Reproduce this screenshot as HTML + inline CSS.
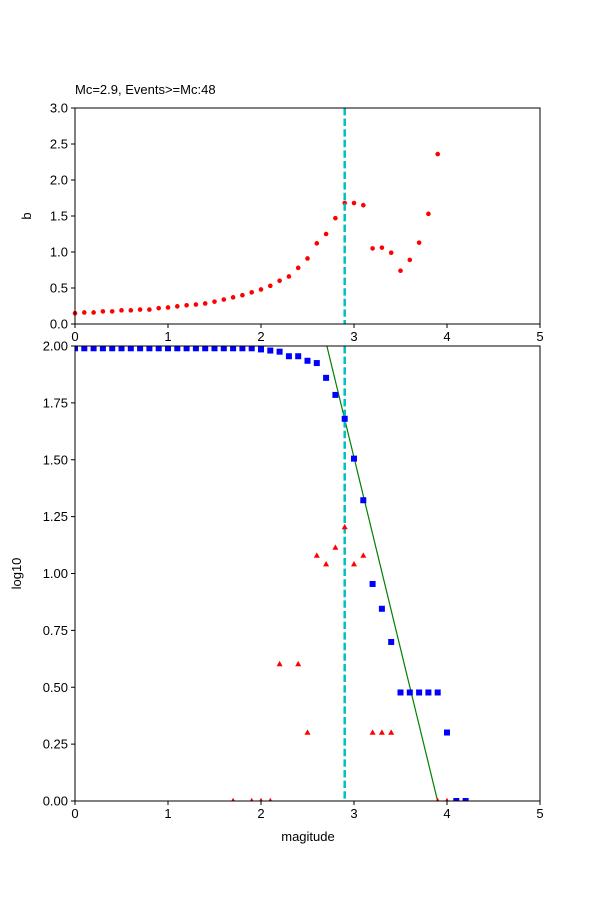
<!DOCTYPE html>
<html><head><meta charset="utf-8"><style>
body{margin:0;background:#fff}
svg text{font-family:"Liberation Sans","DejaVu Sans",sans-serif;font-size:13px;fill:#000}
</style></head><body>
<svg id="chart" width="600" height="900" xmlns="http://www.w3.org/2000/svg"></svg>
<script>
const bMags=[0,0.1,0.2,0.3,0.4,0.5,0.6,0.7,0.8,0.9,1.0,1.1,1.2,1.3,1.4,1.5,1.6,1.7,1.8,1.9,2.0,2.1,2.2,2.3,2.4,2.5,2.6,2.7,2.8,2.9,3.0,3.1,3.2,3.3,3.4,3.5,3.6,3.7,3.8,3.9];
const bValues=[0.15,0.16,0.16,0.175,0.175,0.19,0.19,0.2,0.2,0.22,0.23,0.245,0.26,0.27,0.285,0.31,0.34,0.37,0.4,0.44,0.48,0.53,0.6,0.66,0.78,0.91,1.12,1.25,1.47,1.68,1.68,1.65,1.05,1.06,0.99,0.74,0.89,1.13,1.53,2.36];
const cumMags=[0,0.1,0.2,0.3,0.4,0.5,0.6,0.7,0.8,0.9,1.0,1.1,1.2,1.3,1.4,1.5,1.6,1.7,1.8,1.9,2.0,2.1,2.2,2.3,2.4,2.5,2.6,2.7,2.8,2.9,3.0,3.1,3.2,3.3,3.4,3.5,3.6,3.7,3.8,3.9,4.0,4.1,4.2];
const cumLog=[1.99,1.99,1.99,1.99,1.99,1.99,1.99,1.99,1.99,1.99,1.99,1.99,1.99,1.99,1.99,1.99,1.99,1.99,1.99,1.99,1.985,1.98,1.975,1.955,1.955,1.935,1.925,1.86,1.785,1.68,1.505,1.322,0.954,0.845,0.699,0.477,0.477,0.477,0.477,0.477,0.301,0,0];
const nonMags=[1.7,1.9,2.0,2.1,2.2,2.4,2.5,2.6,2.7,2.8,2.9,3.0,3.1,3.2,3.3,3.4,3.9,4.0];
const nonLog=[0,0,0,0,0.602,0.602,0.301,1.079,1.041,1.114,1.204,1.041,1.079,0.301,0.301,0.301,0,0];
const mc=2.9, fitA=6.55, fitB=1.68;
const xTicks=[0,1,2,3,4,5];
const bTicks=[0,0.5,1.0,1.5,2.0,2.5,3.0];
const logTicks=[0,0.25,0.5,0.75,1.0,1.25,1.5,1.75,2.0];

const NS="http://www.w3.org/2000/svg";
const svg=document.getElementById('chart');
function el(t,a,p){const e=document.createElementNS(NS,t);for(const k in a)e.setAttribute(k,a[k]);(p||svg).appendChild(e);return e;}
const L=75,R=540;
const x=v=>L+(v/5)*(R-L);
const yT=v=>324-(v/3)*(324-108);
const yB=v=>801-(v/2)*(801-346);

function axes(name,top,bot,yTicksArr,yf,fmt,ylabel,ylx){
  const g=el('g',{});
  
  
  xTicks.forEach(t=>{
    el('line',{x1:x(t),x2:x(t),y1:bot,y2:bot+4,stroke:'#000'},g);
    const tx=el('text',{x:x(t),y:bot+17,'text-anchor':'middle'},g);tx.textContent=t;
    
    
  });
  yTicksArr.forEach(t=>{
    el('line',{x1:L-4,x2:L,y1:yf(t),y2:yf(t),stroke:'#000'},g);
    const tx=el('text',{x:L-7,y:yf(t)+4.5,'text-anchor':'end'},g);tx.textContent=fmt(t);
    
    
  });
  const yl=el('text',{x:ylx,y:(top+bot)/2,'text-anchor':'middle',transform:`rotate(-90 ${ylx} ${(top+bot)/2})`},g);
  yl.textContent=ylabel;
  
  
  return g;
}
function frame(top,bot){el('rect',{x:L,y:top,width:R-L,height:bot-top,fill:'none',stroke:'#000','stroke-width':1});}

// top plot
const gTop=el('g',{});


el('line',{x1:x(mc),x2:x(mc),y1:108,y2:324,stroke:'#00bfbf','stroke-width':2.5,'stroke-dasharray':'7.4,3.2'});
bMags.forEach((m,i)=>{const c=el('circle',{cx:x(m),cy:yT(bValues[i]),r:2.3,fill:'#ff0000'},gTop);
  
  });
axes('top-axes',108,324,bTicks,yT,t=>t.toFixed(1),'b',31);
frame(108,324);
const title=el('text',{x:75,y:94});title.textContent='Mc=2.9, Events>=Mc:48';



// bottom plot
const clip=el('clipPath',{id:'cb'});el('rect',{x:L,y:346,width:R-L,height:455},clip);
const gB=el('g',{'clip-path':'url(#cb)'});


const fl=el('line',{x1:x(2.5),y1:yB(fitA-fitB*2.5),x2:x(4.2),y2:yB(fitA-fitB*4.2),stroke:'#008000','stroke-width':1.2},gB);


el('line',{x1:x(mc),x2:x(mc),y1:346,y2:801,stroke:'#00bfbf','stroke-width':2.5,'stroke-dasharray':'7.4,3.2'},gB);
cumMags.forEach((m,i)=>{const s=el('rect',{x:x(m)-3,y:yB(cumLog[i])-3,width:6,height:6,fill:'#0000ff'},gB);
  
  });
nonMags.forEach((m,i)=>{const cx=x(m),cy=yB(nonLog[i]);
  const p=el('polygon',{points:`${cx},${cy-3.2} ${cx-3},${cy+2.2} ${cx+3},${cy+2.2}`,fill:'#ff0000'},gB);
  
  });
axes('bottom-axes',346,801,logTicks,yB,t=>t.toFixed(2),'log10',21);
frame(346,801);
const xl=el('text',{x:308,y:841,'text-anchor':'middle'});xl.textContent='magitude';


</script>
</body></html>
